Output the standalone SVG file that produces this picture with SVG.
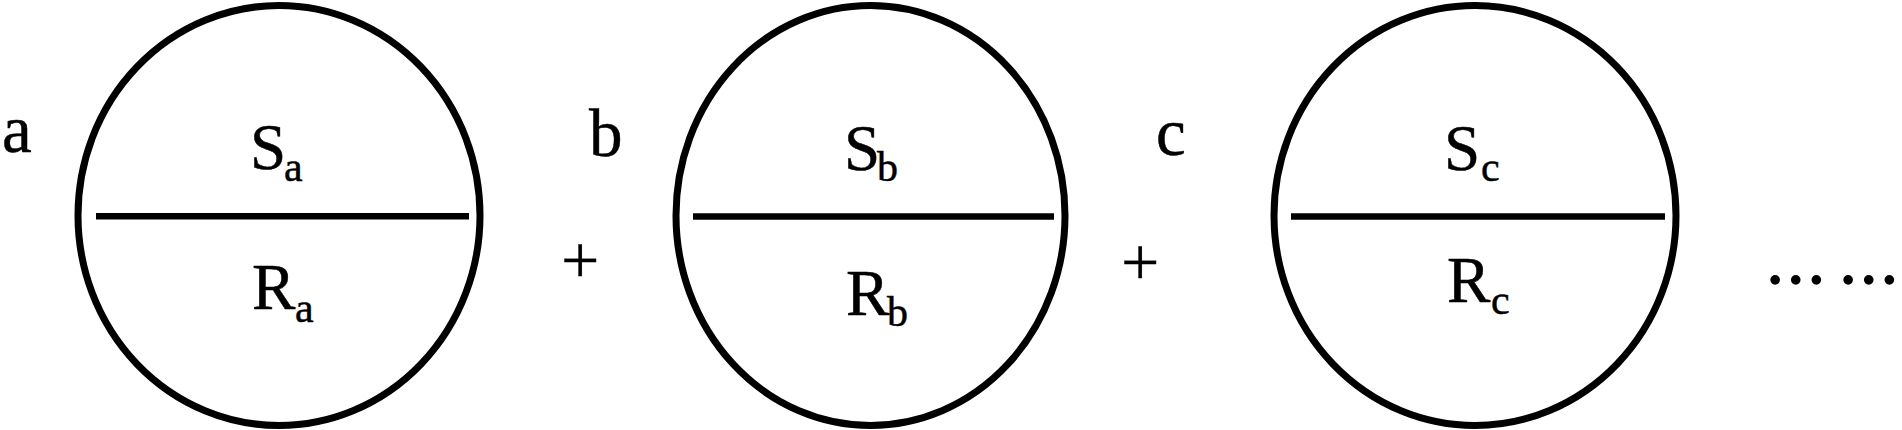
<svg xmlns="http://www.w3.org/2000/svg" width="1902" height="430" viewBox="0 0 1902 430">
<style>
.ring{fill:none;stroke:#000;stroke-width:7}
.bar{stroke:#000;stroke-width:6.5;stroke-linecap:butt}
text{font-family:"Liberation Serif","Times New Roman",serif;fill:#000;stroke:#000;stroke-width:0.5}
.main{font-size:65px}
.sub{font-size:42px}
.lab{font-size:67px}
.op{font-size:68px;stroke-width:0.3}
.dots{font-size:61.5px;stroke-width:2.4}
</style>
<rect width="1902" height="430" fill="#fff" stroke="none"/>
<g id="label-a"><text class="lab" x="2" y="152">a</text></g>
<g id="label-b"><text class="lab" x="589" y="156">b</text></g>
<g id="label-c"><text class="lab" x="1156" y="155">c</text></g>
<g id="node-a">
<ellipse class="ring" cx="279" cy="215.5" rx="201" ry="210"/>
<text class="main" x="250" y="169">S</text><text class="sub" x="284" y="181">a</text>
<text class="main" x="252" y="309">R</text><text class="sub" x="295" y="322">a</text>
</g>
<g id="node-b">
<ellipse class="ring" cx="870.5" cy="215.5" rx="194.5" ry="210"/>
<text class="main" x="844" y="170">S</text><text class="sub" x="877" y="181">b</text>
<text class="main" x="846" y="315">R</text><text class="sub" x="887" y="326">b</text>
</g>
<g id="node-c">
<ellipse class="ring" cx="1475" cy="215.5" rx="201" ry="210"/>
<text class="main" x="1444" y="170">S</text><text class="sub" x="1481" y="181">c</text>
<text class="main" x="1447" y="302">R</text><text class="sub" x="1491" y="314">c</text>
</g>
<g id="connectors">
<line class="bar" x1="96" y1="216.3" x2="469" y2="216.3"/>
<line class="bar" x1="693" y1="216.5" x2="1054" y2="216.5"/>
<line class="bar" x1="1291" y1="216.5" x2="1665" y2="216.5"/>
</g>
<g id="operators">
<text class="op" x="561" y="283">+</text>
<text class="op" x="1121" y="285">+</text>
<text class="dots" y="283"><tspan x="1765">…</tspan><tspan x="1838">…</tspan></text>
</g>
</svg>
